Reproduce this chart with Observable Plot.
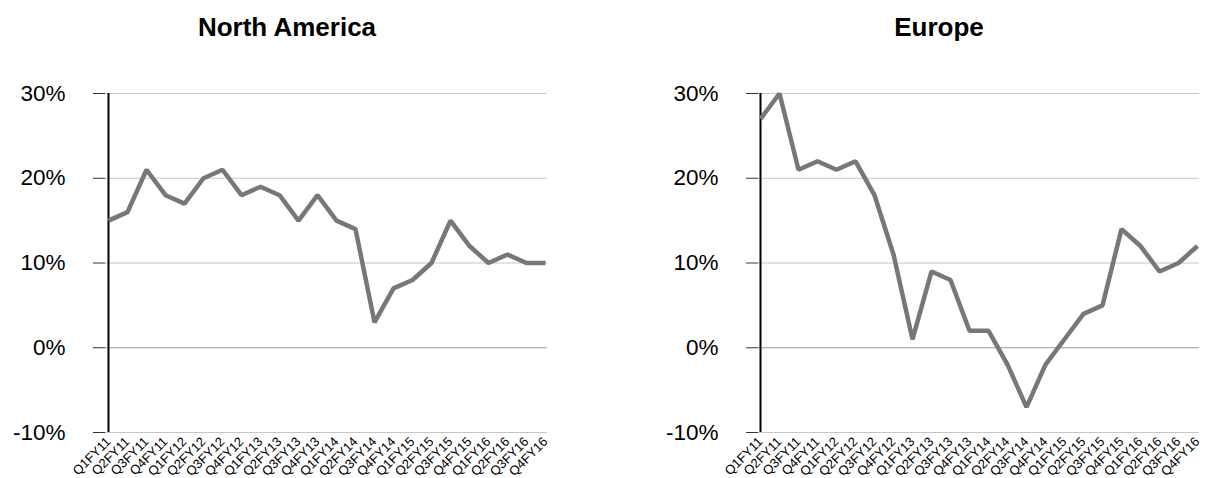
<!DOCTYPE html>
<html>
<head>
<meta charset="utf-8">
<script src="https://cdn.jsdelivr.net/npm/d3@7"></script>
<script src="https://cdn.jsdelivr.net/npm/@observablehq/plot@0.6"></script>
<style>
  html, body { margin: 0; padding: 0; background: #fff; }
  body { width: 1207px; height: 478px; overflow: hidden; font-family: "Liberation Sans", Arial, sans-serif; }
  #wrap { display: flex; }
  .panel { flex: none; }
  .title { font-weight: bold; font-size: 26px; line-height: 30px; padding-top: 12px; height: 30px; text-align: center; color: #000; box-sizing: content-box; }
  svg { display: block; }
</style>
</head>
<body>
<div id="wrap"></div>
<script>
// Quarterly growth, fiscal years 2011–2016
const quarters = [
  "Q1FY11","Q2FY11","Q3FY11","Q4FY11",
  "Q1FY12","Q2FY12","Q3FY12","Q4FY12",
  "Q1FY13","Q2FY13","Q3FY13","Q4FY13",
  "Q1FY14","Q2FY14","Q3FY14","Q4FY14",
  "Q1FY15","Q2FY15","Q3FY15","Q4FY15",
  "Q1FY16","Q2FY16","Q3FY16","Q4FY16"
];
const northAmerica = [15, 16, 21, 18, 17, 20, 21, 18, 19, 18, 15, 18, 15, 14, 3, 7, 8, 10, 15, 12, 10, 11, 10, 10];
const europe       = [27, 30, 21, 22, 21, 22, 18, 11, 1, 9, 8, 2, 2, -2, -7, -2, 1, 4, 5, 14, 12, 9, 10, 12];
const yTicks = [-10, 0, 10, 20, 30];

const panels = [
  {title: "North America", values: northAmerica, width: 603, marginLeft: 105, marginRight: 56, titlePad: "0 29px 0 0"},
  {title: "Europe",        values: europe,       width: 604, marginLeft: 155, marginRight: 8,  titlePad: "0 0 0 68px"}
];

const wrap = document.getElementById("wrap");

for (const p of panels) {
  const rows = quarters.map((q, i) => ({q, v: p.values[i]}));

  const chart = Plot.plot({
    width: p.width,
    height: 436,
    marginTop: 51,
    marginBottom: 46,
    marginLeft: p.marginLeft,
    marginRight: p.marginRight,
    style: {fontFamily: "'Liberation Sans', Arial, sans-serif", color: "#000", background: "#fff", overflow: "visible"},
    x: {type: "point", domain: quarters, padding: 0},
    y: {domain: [-10, 30]},
    marks: [
      Plot.ruleY(yTicks.filter(d => d !== 0), {stroke: "#c6c6c6", strokeWidth: 1}),
      Plot.ruleY([0], {stroke: "#9a9a9a", strokeWidth: 1}),
      Plot.axisY({ticks: yTicks, tickSize: 12, tickPadding: 28, fontSize: 22.5, tickFormat: d => d + "%", stroke: "#333", label: null}),
      Plot.axisX({tickSize: 0, tickRotate: -45, tickPadding: 7, fontSize: 13, label: null}),
      Plot.ruleX([quarters[0]], {y1: -10, y2: 30, stroke: "#000", strokeWidth: 2}),
      Plot.line(rows, {x: "q", y: "v", stroke: "#777777", strokeWidth: 4.5, strokeLinejoin: "miter", strokeLinecap: "butt"})
    ]
  });

  const panel = document.createElement("div");
  panel.className = "panel";
  panel.style.width = p.width + "px";
  const title = document.createElement("div");
  title.className = "title";
  title.style.padding = p.titlePad;
  title.style.paddingTop = "12px";
  title.textContent = p.title;
  panel.appendChild(title);
  panel.appendChild(chart);
  wrap.appendChild(panel);
}
</script>
</body>
</html>
